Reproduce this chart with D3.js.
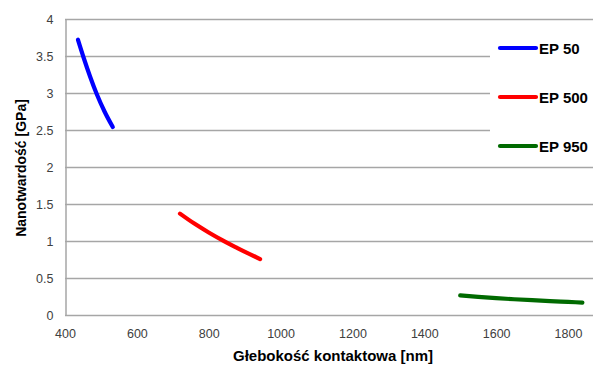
<!DOCTYPE html>
<html>
<head>
<meta charset="utf-8">
<script src="https://cdn.jsdelivr.net/npm/d3@7"></script>
<style>
  html, body { margin: 0; padding: 0; background: #fff; }
  svg { display: block; font-family: "Liberation Sans", Arial, sans-serif; }
</style>
</head>
<body>
<svg id="chart" width="593" height="365"></svg>
<script>
// Contact depth [nm] vs. nanohardness [GPa] for three EP samples
const seriesNames = ["EP 50", "EP 500", "EP 950"];
const seriesColors = ["#0000ff", "#ff0000", "#006a00"];

const ep50Depth  = [436, 451, 470, 488, 510, 533];
const ep50Hard   = [3.72, 3.49, 3.22, 2.99, 2.75, 2.54];

const ep500Depth = [720, 760, 800, 840, 880, 943];
const ep500Hard  = [1.37, 1.235, 1.115, 1.005, 0.905, 0.755];

const ep950Depth = [1500, 1550, 1600, 1650, 1700, 1750, 1800, 1840];
const ep950Hard  = [0.265, 0.245, 0.228, 0.213, 0.200, 0.188, 0.177, 0.168];

const xTicks = [400, 600, 800, 1000, 1200, 1400, 1600, 1800];
const yTicks = [0, 0.5, 1, 1.5, 2, 2.5, 3, 3.5, 4];

const xTitle = "Głebokość kontaktowa [nm]";
const yTitle = "Nanotwardość [GPa]";

const series = [
  { name: seriesNames[0], color: seriesColors[0], xs: ep50Depth,  ys: ep50Hard },
  { name: seriesNames[1], color: seriesColors[1], xs: ep500Depth, ys: ep500Hard },
  { name: seriesNames[2], color: seriesColors[2], xs: ep950Depth, ys: ep950Hard }
];

const W = 593, H = 365;
const plot = { left: 65, top: 19, bottom: 315, right: W };

const x = d3.scaleLinear().domain([400, 1800]).range([plot.left, 568]);
const y = d3.scaleLinear().domain([0, 4]).range([plot.bottom, plot.top]);

const svg = d3.select("#chart");

// horizontal gridlines
svg.append("g")
  .selectAll("line")
  .data(yTicks.filter(d => d > 0))
  .join("line")
  .attr("x1", plot.left).attr("x2", plot.right)
  .attr("y1", d => Math.round(y(d)) + 0.5).attr("y2", d => Math.round(y(d)) + 0.5)
  .attr("stroke", "#a6a6a6").attr("stroke-width", 1.3);

// y axis
const yAxis = svg.append("g")
  .attr("transform", `translate(${plot.left + 0.5},0)`)
  .call(d3.axisLeft(y).tickValues(yTicks).tickSize(0).tickPadding(12).tickFormat(d3.format("")));
yAxis.select(".domain").attr("stroke", "#a6a6a6").attr("stroke-width", 1.5);
yAxis.selectAll("text").attr("font-size", 12.5).attr("fill", "#404040");

// x axis
const xAxis = svg.append("g")
  .attr("transform", `translate(0,${plot.bottom + 0.5})`)
  .call(d3.axisBottom(x).tickValues(xTicks).tickSize(0).tickPadding(14).tickFormat(d3.format("")));
xAxis.select(".domain").attr("d", `M${plot.left},0H${plot.right}`)
  .attr("stroke", "#a6a6a6").attr("stroke-width", 1.5);
xAxis.selectAll("text").attr("font-size", 12.5).attr("fill", "#404040");

// legend background covers gridlines on the right
const legend = svg.append("g");
legend.append("rect")
  .attr("x", 490).attr("y", 22).attr("width", W - 490).attr("height", 140)
  .attr("fill", "#fff");

// series curves
const line = d3.line()
  .x(d => x(d[0]))
  .y(d => y(d[1]))
  .curve(d3.curveMonotoneX);

svg.append("g")
  .selectAll("path")
  .data(series)
  .join("path")
  .attr("d", s => line(s.xs.map((v, i) => [v, s.ys[i]])))
  .attr("fill", "none")
  .attr("stroke", s => s.color)
  .attr("stroke-width", 4.2)
  .attr("stroke-linecap", "round")
  .attr("stroke-linejoin", "round");

// legend entries
const legendY = d3.scalePoint().domain(seriesNames).range([48, 146]);
const entries = legend.selectAll("g.entry")
  .data(series)
  .join("g")
  .attr("class", "entry")
  .attr("transform", s => `translate(0,${legendY(s.name)})`);
entries.append("line")
  .attr("x1", 500).attr("x2", 536).attr("y1", 0).attr("y2", 0)
  .attr("stroke", s => s.color).attr("stroke-width", 4.2).attr("stroke-linecap", "round");
entries.append("text")
  .attr("x", 539).attr("y", 5.5)
  .attr("font-size", 15).attr("font-weight", "bold").attr("fill", "#000")
  .text(s => s.name);

// axis titles
svg.append("text")
  .attr("x", 333).attr("y", 361)
  .attr("text-anchor", "middle")
  .attr("font-size", 15).attr("font-weight", "bold").attr("fill", "#000")
  .text(xTitle);

svg.append("text")
  .attr("transform", "translate(26,168) rotate(-90)")
  .attr("text-anchor", "middle")
  .attr("font-size", 14).attr("font-weight", "bold").attr("fill", "#000")
  .text(yTitle);
</script>
</body>
</html>
